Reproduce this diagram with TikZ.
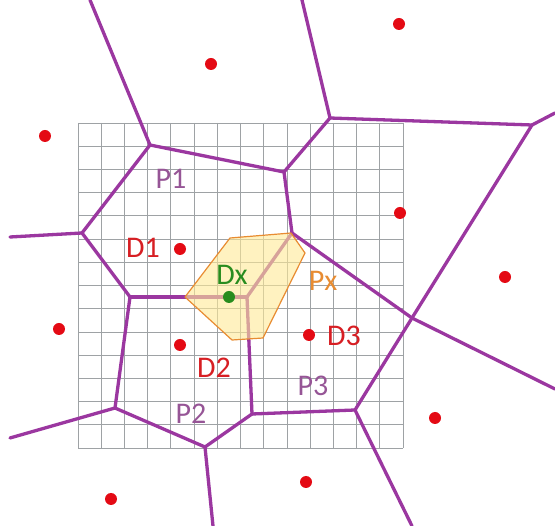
\documentclass[tikz,border=0pt]{standalone}
\usepackage{fontspec}
\setmainfont{Carlito}
\definecolor{vor}{RGB}{155,55,160}
\definecolor{site}{RGB}{228,10,20}
\definecolor{gridc}{RGB}{158,162,165}
\definecolor{pxline}{RGB}{232,140,50}
\definecolor{pxfill}{RGB}{255,234,150}
\definecolor{dxc}{RGB}{40,140,30}
\definecolor{plab}{RGB}{150,85,150}
\definecolor{dlab}{RGB}{215,30,35}
\tikzset{
  vedge/.style={draw=vor, line width=3.3pt, line cap=round, line join=round},
  gridline/.style={draw=gridc, line width=0.8pt},
  sitedot/.style={circle, fill=site, inner sep=0pt, minimum size=12pt},
  dxdot/.style={circle, fill=dxc, inner sep=0pt, minimum size=12pt},
  lab/.style={font=\fontsize{30}{30}\selectfont, inner sep=0pt},
  plabel/.style={lab, text=plab},
  dlabel/.style={lab, text=dlab},
}
\begin{document}
\begin{tikzpicture}[x=1pt,y=-1pt]
\useasboundingbox (0,0) rectangle (555,526);
\fill[white] (0,0) rectangle (555,526);
% grid 14x14
\foreach \i in {0,...,14}{
  \draw[gridline] ({78+\i*325/14},123) -- ({78+\i*325/14},448);
  \draw[gridline] (78,{123+\i*325/14}) -- (403,{123+\i*325/14});
}
% Voronoi vertices
\coordinate (A) at (150,145);
\coordinate (B) at (284,172);
\coordinate (C) at (82,233);
\coordinate (D) at (130,297);
\coordinate (E) at (247,297);
\coordinate (F) at (330,118);
\coordinate (G) at (532,125);
\coordinate (H) at (412,318);
\coordinate (I) at (292,233);
\coordinate (J) at (355,410);
\coordinate (K) at (252,414);
\coordinate (L) at (205,447);
\coordinate (M) at (115,408);
% boundary ends
\coordinate (eA) at (90,0);
\coordinate (eC) at (10,237);
\coordinate (eF) at (302,0);
\coordinate (eG) at (555,113);
\coordinate (eH) at (555,389);
\coordinate (eJ) at (412,526);
\coordinate (eL) at (213,526);
\coordinate (eM) at (10,438);
% edges
\draw[vedge] (eA) -- (A);
\draw[vedge] (A) -- (B);
\draw[vedge] (A) -- (C);
\draw[vedge] (eC) -- (C);
\draw[vedge] (C) -- (D);
\draw[vedge] (D) -- (E);
\draw[vedge] (B) -- (F);
\draw[vedge] (F) -- (eF);
\draw[vedge] (F) -- (G);
\draw[vedge] (G) -- (eG);
\draw[vedge] (G) -- (H);
\draw[vedge] (B) -- (I);
\draw[vedge] (I) -- (H);
\draw[vedge] (H) -- (eH);
\draw[vedge] (H) -- (J);
\draw[vedge] (J) -- (eJ);
\draw[vedge] (J) -- (K);
\draw[vedge] (K) -- (E);
\draw[vedge] (E) -- (I);
\draw[vedge] (K) -- (L);
\draw[vedge] (L) -- (eL);
\draw[vedge] (L) -- (M);
\draw[vedge] (M) -- (eM);
\draw[vedge] (M) -- (D);
% Px polygon
\coordinate (p1) at (185,297);
\coordinate (p2) at (230,238);
\coordinate (p3) at (291,233);
\coordinate (p4) at (305,253);
\coordinate (p5) at (263,338);
\coordinate (p6) at (232,340);
\fill[pxfill, opacity=0.6] (p1) -- (p2) -- (p3) -- (p4) -- (p5) -- (p6) -- cycle;
\draw[pxline, line width=1.2pt, line join=round] (p1) -- (p2) -- (p3) -- (p4) -- (p5) -- (p6) -- cycle;
% sites
\node[sitedot] (s1) at (211,64) {};
\node[sitedot] (s2) at (45,136) {};
\node[sitedot] (s3) at (399,24) {};
\node[sitedot] (s4) at (400,213) {};
\node[sitedot] (d1) at (180,249) {};
\node[sitedot] (s5) at (59,329) {};
\node[sitedot] (d2) at (180,345) {};
\node[sitedot] (d3) at (309,335) {};
\node[sitedot] (s6) at (505,277) {};
\node[sitedot] (s7) at (435,418) {};
\node[sitedot] (s8) at (306,482) {};
\node[sitedot] (s9) at (111,499) {};
\node[dxdot] (dx) at (229,297) {};
% labels
\node[plabel] (lP1) at (171,179) {P1};
\node[plabel] (lP2) at (191,414) {P2};
\node[plabel] (lP3) at (313,386) {P3};
\node[dlabel] (lD1) at (143,248) {D1};
\node[dlabel] (lD2) at (214,368) {D2};
\node[dlabel] (lD3) at (344,336) {D3};
\node[lab, text=dxc] (lDx) at (232,275) {Dx};
\node[lab, text=pxline] (lPx) at (323,281) {Px};
\end{tikzpicture}
\end{document}
